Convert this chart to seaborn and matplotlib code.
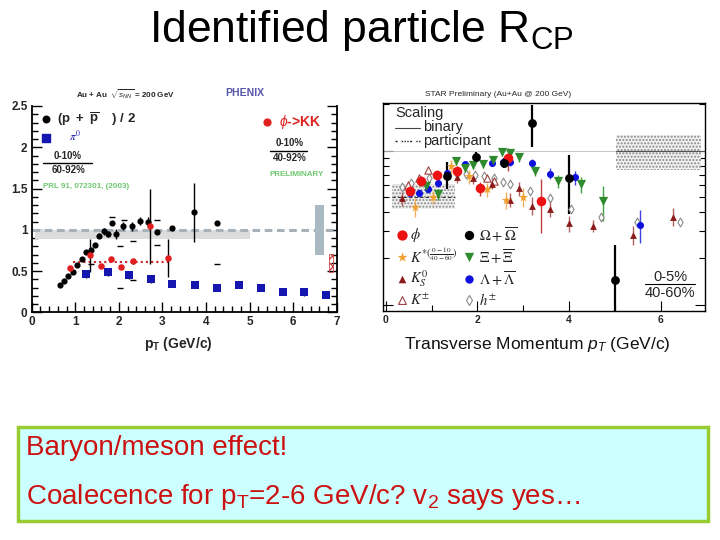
import numpy as np
import matplotlib
matplotlib.use("Agg")
import matplotlib.pyplot as plt
import seaborn as sns
from matplotlib.patches import Rectangle
from matplotlib.ticker import MultipleLocator, NullFormatter, LogLocator

sns.set_theme(style="ticks")
plt.rcParams['font.family'] = ['Liberation Sans', 'DejaVu Sans']
plt.rcParams['mathtext.fontset'] = 'custom'
plt.rcParams['mathtext.rm'] = 'Liberation Sans'
plt.rcParams['mathtext.it'] = 'Liberation Sans:italic'
plt.rcParams['mathtext.bf'] = 'Liberation Sans:bold'

# ---------------- PHENIX (left) data ----------------
prot_pt = [0.64, 0.74, 0.84, 0.94, 1.05, 1.15, 1.25, 1.35, 1.45, 1.55, 1.65, 1.74, 1.84, 1.94,
           2.1, 2.3, 2.49, 2.68, 2.88, 3.23, 3.73, 4.25]
prot_rcp = [0.33, 0.38, 0.44, 0.49, 0.57, 0.65, 0.73, 0.76, 0.82, 0.93, 0.98, 0.95, 1.08, 0.95,
            1.05, 1.04, 1.11, 1.10, 0.97, 1.02, 1.21, 1.08]
prot_err = [0.01, 0.01, 0.01, 0.01, 0.01, 0.01, 0.02, 0.02, 0.02, 0.03, 0.04, 0.04, 0.02, 0.06,
            0.05, 0.06, 0.05, 0.05, 0.02, 0.02, 0.36, 0.02]
prot_sys_pt = [1.85, 2.03, 2.03, 2.32, 2.32, 2.87, 2.87, 4.25, 2.12, 1.35]
prot_sys_y = [1.16, 0.80, 0.29, 0.86, 0.39, 1.12, 0.82, 0.59, 1.12, 0.58]

phi_l_pt = [0.88, 1.34, 1.58, 1.82, 2.04, 2.33, 2.72, 3.12]
phi_l_rcp = [0.54, 0.69, 0.56, 0.65, 0.545, 0.62, 1.04, 0.66]
phi_l_err = [0.02, 0.20, 0.02, 0.02, 0.02, 0.03, 0.45, 0.23]

pi0_pt = [1.24, 1.74, 2.24, 2.73, 3.23, 3.75, 4.25, 4.75, 5.26, 5.76, 6.26, 6.76]
pi0_rcp = [0.46, 0.49, 0.45, 0.40, 0.34, 0.33, 0.29, 0.33, 0.30, 0.24, 0.24, 0.21]
pi0_err = [0.05, 0.05, 0.05, 0.04, 0.02, 0.04, 0.02, 0.04, 0.04, 0.02, 0.04, 0.04]

# ---------------- STAR (right) data ----------------
phi_pt = [0.53, 0.77, 1.12, 1.55, 2.06, 2.67, 3.38]
phi_rcp = [0.55, 0.64, 0.70, 0.74, 0.57, 0.89, 0.47]
phi_err = [0.06, 0.05, 0.05, 0.06, 0.06, 0.15, 0.18]

kstar_pt = [0.63, 1.03, 1.43, 1.81, 2.21, 2.62, 2.99]
kstar_rcp = [0.43, 0.50, 0.79, 0.68, 0.56, 0.48, 0.50]
kstar_err = [0.06, 0.05, 0.08, 0.07, 0.06, 0.06, 0.07]

k0s_pt = [0.36, 1.56, 1.91, 2.31, 2.71, 2.91, 3.18, 3.58, 3.99, 4.51, 5.38, 6.27]
k0s_rcp = [0.49, 0.67, 0.66, 0.61, 0.48, 0.57, 0.44, 0.42, 0.338, 0.325, 0.284, 0.373]
k0s_err = [0.05, 0.05, 0.05, 0.05, 0.05, 0.06, 0.06, 0.05, 0.04, 0.03, 0.04, 0.05]

kch_pt = [0.48, 0.72, 0.93, 2.21, 2.36]
kch_rcp = [0.60, 0.66, 0.75, 0.66, 0.64]

hch_pt = [0.35, 0.55, 0.75, 0.95, 1.15, 1.35, 1.55, 1.75, 1.95, 2.15, 2.35, 2.55, 2.71,
          3.14, 3.58, 4.03, 4.69, 5.47, 6.41]
hch_rcp = [0.58, 0.62, 0.64, 0.66, 0.68, 0.70, 0.71, 0.71, 0.70, 0.68, 0.66, 0.63, 0.61,
           0.55, 0.49, 0.42, 0.37, 0.345, 0.345]

omega_pt = [1.34, 1.97, 2.58, 3.19, 4.0, 5.0]
omega_rcp = [0.69, 0.91, 0.83, 1.51, 0.66, 0.145]
omega_lo = [0.13, 0.06, 0.06, 0.45, 0.27, 0.06]
omega_hi = [0.16, 0.07, 0.07, 0.47, 0.28, 0.10]

xi_pt = [0.88, 1.13, 1.53, 1.73, 1.91, 2.11, 2.33, 2.53, 2.71, 2.91, 3.25, 3.76, 4.25, 4.74]
xi_rcp = [0.59, 0.52, 0.86, 0.77, 0.81, 0.82, 0.87, 0.985, 0.96, 0.91, 0.74, 0.636, 0.605, 0.47]
xi_err = [0.05, 0.04, 0.05, 0.05, 0.05, 0.05, 0.05, 0.06, 0.06, 0.06, 0.05, 0.06, 0.07, 0.12]

lam_pt = [0.54, 0.73, 0.92, 1.14, 1.34, 1.72, 2.31, 2.55, 2.72, 3.18, 3.58, 4.12, 5.54]
lam_rcp = [0.53, 0.53, 0.56, 0.62, 0.72, 0.82, 0.83, 0.84, 0.84, 0.83, 0.71, 0.67, 0.33]
lam_err = [0.03, 0.03, 0.03, 0.04, 0.04, 0.04, 0.04, 0.04, 0.05, 0.05, 0.06, 0.07, 0.08]

W, H = 720, 540
fig = plt.figure(figsize=(7.2, 5.4), dpi=100)
fig.patch.set_facecolor('white')


def ftext(x, y, s, **kw):
    kw.setdefault('ha', 'center')
    kw.setdefault('va', 'center')
    return fig.text(x / W, 1 - y / H, s, **kw)


def add_axes_px(x0, y0, x1, y1):
    return fig.add_axes([x0 / W, 1 - y1 / H, (x1 - x0) / W, (y1 - y0) / H])


# ---------------- Title ----------------
ftext(361, 31, r"Identified particle R$_\mathregular{CP}$", fontsize=32, color='black')

# ---------------- Left axes (PHENIX) ----------------
ax1 = add_axes_px(31.7, 106, 336.7, 312.3)
ax1.set_facecolor('white')

# bands / reference lines
ax1.add_patch(Rectangle((0.08, 0.885), 4.92, 0.115, facecolor='#DCDCDC', edgecolor='none', zorder=1))
ax1.axhline(1.0, color='#A8B0B8', lw=2.2, ls=(0, (2.5, 1.5)), zorder=1.5)
ax1.add_patch(Rectangle((6.5, 0.70), 0.2, 0.60, facecolor='#A9BAC2', edgecolor='none', zorder=2))
ax1.add_patch(Rectangle((6.82, 0.49), 0.1, 0.22, facecolor='none', edgecolor='#CC4444',
                        hatch='xxx', lw=0.6, zorder=2))
ax1.plot([0.95, 3.15], [0.61, 0.61], color='#CC2222', lw=1.5, ls=(0, (1, 1.5)), zorder=2)

ax1.errorbar(prot_pt, prot_rcp, yerr=prot_err, fmt='none', ecolor='black', elinewidth=1, zorder=3)
ax1.errorbar(phi_l_pt, phi_l_rcp, yerr=phi_l_err, fmt='none', ecolor='black', elinewidth=1, zorder=3)
ax1.errorbar(pi0_pt, pi0_rcp, yerr=pi0_err, fmt='none', ecolor='black', elinewidth=1, zorder=3)
sns.scatterplot(x=prot_sys_pt, y=prot_sys_y, ax=ax1, marker='_', s=22, color='black',
                linewidth=1, zorder=3)
sns.scatterplot(x=prot_pt, y=prot_rcp, ax=ax1, marker='o', s=20, color='black',
                edgecolor='black', linewidth=0, zorder=4)
sns.scatterplot(x=phi_l_pt, y=phi_l_rcp, ax=ax1, marker='o', s=22, color='#E02020',
                edgecolor='#E02020', linewidth=0, zorder=4)
sns.scatterplot(x=pi0_pt, y=pi0_rcp, ax=ax1, marker='s', s=32, color='#1515B0',
                edgecolor='#1515B0', linewidth=0, zorder=4)

ax1.set_xlim(0, 7)
ax1.set_ylim(0, 2.5)
ax1.spines['top'].set_visible(False)
for s in ['left', 'bottom', 'right']:
    ax1.spines[s].set_linewidth(1.3)
    ax1.spines[s].set_color('black')
ax1.set_xticks(range(8))
ax1.set_xticklabels([str(i) for i in range(8)], fontweight='bold')
ax1.xaxis.set_minor_locator(MultipleLocator(0.2))
ax1.set_yticks([0, 0.5, 1, 1.5, 2, 2.5])
ax1.set_yticklabels(['0', '0.5', '1', '1.5', '2', '2.5'], fontweight='bold')
ax1.yaxis.set_minor_locator(MultipleLocator(0.1))
ax1.tick_params(which='both', direction='in', left=True, right=True, bottom=True, top=False,
                color='black', width=1)
ax1.tick_params(which='major', length=7, labelsize=8.5, pad=3)
ax1.tick_params(which='minor', length=4)
ax1.set_xlabel('')
ax1.set_ylabel('')

# legend glyphs
ax1.scatter([0.046], [0.936], transform=ax1.transAxes, s=22, color='black', marker='o', clip_on=False)
ax1.scatter([0.046], [0.846], transform=ax1.transAxes, s=32, color='#1515B0', marker='s', clip_on=False)
ax1.scatter([0.77], [0.924], transform=ax1.transAxes, s=24, color='#E02020', marker='o', clip_on=False)

ftext(125, 94, r"Au + Au  $\sqrt{s_{NN}}$ = 200 GeV", fontsize=5.8, fontweight='bold')
ftext(245, 93, "PHENIX", fontsize=7.5, fontweight='bold', color='#5555AA')
ftext(97, 119, r"$\mathbf{(p\ +\ \overline{p}\quad\ )\ /\ 2}$", fontsize=9.5)
ftext(75, 136, r"$\pi^0$", fontsize=8, color='#1515B0', math_fontfamily='stix')
ftext(68, 156, "0-10%", fontsize=7, fontweight='bold')
fig.add_artist(plt.Line2D([43 / W, 92 / W], [1 - 163 / H, 1 - 163 / H], color='black', lw=1))
ftext(68, 170, "60-92%", fontsize=7, fontweight='bold')
ftext(43, 186, "PRL 91, 072301, (2003)", fontsize=5.8, fontweight='bold', color='#70C870', ha='left')
ftext(300, 122, r"$\phi$->KK", fontsize=10, fontweight='bold', color='#DD2222')
ftext(290, 143, "0-10%", fontsize=7, fontweight='bold')
fig.add_artist(plt.Line2D([270 / W, 307 / W], [1 - 150.5 / H, 1 - 150.5 / H], color='black', lw=1))
ftext(290, 158, "40-92%", fontsize=7, fontweight='bold')
ftext(297, 174, "PRELIMINARY", fontsize=5.8, fontweight='bold', color='#70C870')
ftext(178, 344, r"p$_\mathbf{T}$ (GeV/c)", fontsize=10, fontweight='bold')

# ---------------- Right axes (STAR) ----------------
ax2 = add_axes_px(383, 103, 705, 311)
ax2.set_facecolor('white')
ax2.set_yscale('log')

# scaling bands
ax2.axhline(1.0, color='#BBBBBB', lw=0.6, zorder=1)
ax2.add_patch(Rectangle((5.03, 0.75), 1.85, 0.51, facecolor='#F2F2F2', edgecolor='#888888',
                        hatch='.....', lw=0, zorder=1))
ax2.plot([5.03, 6.96], [1.0, 1.0], color='#555555', lw=0.8, zorder=1.5)
ax2.add_patch(Rectangle((0.13, 0.42), 1.38, 0.19, facecolor='#F2F2F2', edgecolor='#888888',
                        hatch='.....', lw=0, zorder=1))
ax2.plot([0.13, 1.51], [0.50, 0.50], color='#333333', lw=0.8, ls=(0, (3, 2)), zorder=1.5)

c_phi, c_kst, c_k0, c_kch = '#EE1111', '#F0A030', '#8B1A1A', '#A04040'
c_om, c_xi, c_lam, c_h = 'black', '#2E8B2E', '#1010DD', '#888888'

ax2.errorbar(phi_pt, phi_rcp, yerr=phi_err, fmt='none', ecolor='#C04040', elinewidth=1, zorder=2)
ax2.errorbar(kstar_pt, kstar_rcp, yerr=kstar_err, fmt='none', ecolor='#F0B060', elinewidth=1, zorder=2)
ax2.errorbar(k0s_pt, k0s_rcp, yerr=k0s_err, fmt='none', ecolor='#B06060', elinewidth=1, zorder=2)
ax2.errorbar(xi_pt, xi_rcp, yerr=xi_err, fmt='none', ecolor='#40A040', elinewidth=1, zorder=2)
ax2.errorbar(lam_pt, lam_rcp, yerr=lam_err, fmt='none', ecolor='#4040E0', elinewidth=1, zorder=2)
ax2.errorbar(omega_pt, omega_rcp, yerr=[omega_lo, omega_hi], fmt='none', ecolor='black',
             elinewidth=1.6, zorder=2)

sns.scatterplot(x=hch_pt, y=hch_rcp, ax=ax2, marker='d', s=20, facecolor='white', edgecolor=c_h,
                linewidth=0.8, zorder=3)
sns.scatterplot(x=kch_pt, y=kch_rcp, ax=ax2, marker='^', s=28, facecolor='white', edgecolor=c_kch,
                linewidth=0.8, zorder=3)
sns.scatterplot(x=k0s_pt, y=k0s_rcp, ax=ax2, marker='^', s=24, color=c_k0, edgecolor=c_k0,
                linewidth=0, zorder=3)
sns.scatterplot(x=kstar_pt, y=kstar_rcp, ax=ax2, marker='*', s=50, color=c_kst, edgecolor=c_kst,
                linewidth=0, zorder=3)
sns.scatterplot(x=lam_pt, y=lam_rcp, ax=ax2, marker='o', s=26, color=c_lam, edgecolor=c_lam,
                linewidth=0, zorder=3)
sns.scatterplot(x=xi_pt, y=xi_rcp, ax=ax2, marker='v', s=44, color=c_xi, edgecolor=c_xi,
                linewidth=0, zorder=3)
sns.scatterplot(x=phi_pt, y=phi_rcp, ax=ax2, marker='o', s=48, color=c_phi, edgecolor=c_phi,
                linewidth=0, zorder=4)
sns.scatterplot(x=omega_pt, y=omega_rcp, ax=ax2, marker='o', s=40, color=c_om, edgecolor=c_om,
                linewidth=0, zorder=4)

ax2.set_xlim(-0.059, 6.96)
ax2.set_ylim(0.091, 2.04)
for s in ax2.spines.values():
    s.set_linewidth(1.0)
    s.set_color('black')
ax2.set_xticks([0, 2, 4, 6])
ax2.set_xticklabels(['0', '2', '4', '6'], fontweight='bold')
ax2.xaxis.set_minor_locator(MultipleLocator(1))
ax2.yaxis.set_major_locator(LogLocator(base=10, numticks=5))
ax2.yaxis.set_minor_locator(LogLocator(base=10, subs=np.arange(2, 10), numticks=12))
ax2.yaxis.set_major_formatter(NullFormatter())
ax2.yaxis.set_minor_formatter(NullFormatter())
ax2.tick_params(which='both', direction='in', left=True, right=True, bottom=True, top=False,
                color='black', width=0.8)
ax2.tick_params(which='major', length=7, labelsize=7.5, pad=3)
ax2.tick_params(which='minor', length=4)
ax2.set_xlabel('')
ax2.set_ylabel('')

# STAR legend
ftext(498, 95, "STAR Preliminary (Au+Au @ 200 GeV)", fontsize=6)
ftext(395, 113, "Scaling", fontsize=10.5, ha='left')
fig.add_artist(plt.Line2D([395 / W, 420 / W], [1 - 128 / H] * 2, color='#444444', lw=0.8))
ftext(423, 127.5, "binary", fontsize=10.5, ha='left')
fig.add_artist(plt.Line2D([395 / W, 420 / W], [1 - 141 / H] * 2, color='#222222', lw=1.0,
                          ls=(0, (1.5, 3, 1, 1, 1, 1, 1, 1))))
ftext(423, 140.5, "participant", fontsize=10.5, ha='left')

leg_col1 = [(c_phi, 'o', 55, True, r"$\phi$"),
            (c_kst, '*', 55, True, r"$K^{*(\frac{0-10}{40-60})}$"),
            (c_k0, '^', 30, True, r"$K^0_S$"),
            (c_kch, '^', 32, False, r"$K^{\pm}$")]
leg_col2 = [(c_om, 'o', 45, True, r"$\Omega+\overline{\Omega}$"),
            (c_xi, 'v', 45, True, r"$\Xi+\overline{\Xi}$"),
            (c_lam, 'o', 36, True, r"$\Lambda+\overline{\Lambda}$"),
            (c_h, 'd', 26, False, r"$h^{\pm}$")]
rows_y = [0.365, 0.261, 0.154, 0.053]
for xm, xt, col in [(0.058, 0.085, leg_col1), (0.267, 0.297, leg_col2)]:
    for (c, m, s, filled, lab), yy in zip(col, rows_y):
        if filled:
            ax2.scatter([xm], [yy], transform=ax2.transAxes, s=s, marker=m, color=c, linewidths=0, zorder=5)
        else:
            ax2.scatter([xm], [yy], transform=ax2.transAxes, s=s, marker=m, facecolor='white',
                        edgecolor=c, linewidths=0.8, zorder=5)
        ax2.text(xt, yy, lab, transform=ax2.transAxes, fontsize=10.5, va='center', ha='left',
                 math_fontfamily='stix', color='#222222')

ftext(670, 277, "0-5%", fontsize=10.5)
fig.add_artist(plt.Line2D([645 / W, 695 / W], [1 - 284 / H] * 2, color='black', lw=0.8))
ftext(670, 293, "40-60%", fontsize=10.5)
ftext(537, 345, r"Transverse Momentum $p_T$ (GeV/c)", fontsize=12.5, color='#111111')

# ---------------- Bottom text box ----------------
fig.patches.append(Rectangle((18 / W, 1 - 521 / H), 690 / W, 94 / H, transform=fig.transFigure,
                             facecolor='#CCFFFF', edgecolor='#99CC33', lw=2.5, zorder=0))
ftext(26, 448, "Baryon/meson effect!", fontsize=20, color='#CC1111', ha='left')
ftext(26, 497, r"Coalecence for p$_\mathregular{T}$=2-6 GeV/c? v$_\mathregular{2}$ says yes…",
      fontsize=20, color='#CC1111', ha='left')

fig.savefig("out.png", dpi=100, facecolor='white')
